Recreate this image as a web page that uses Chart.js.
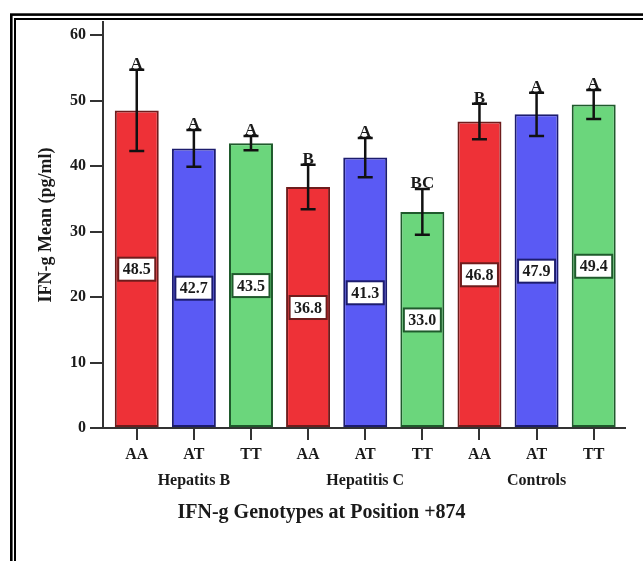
<!DOCTYPE html>
<html>
<head>
<meta charset="utf-8">
<script src="https://cdn.jsdelivr.net/npm/chart.js@4"></script>
<style>
  html, body { margin: 0; padding: 0; background: #fff; }
  #wrap { width: 643px; height: 561px; }
</style>
</head>
<body>
<div id="wrap"><canvas id="chartContainer" width="643" height="561"></canvas></div>
<script>
// data
var genotypes = ['AA', 'AT', 'TT', 'AA', 'AT', 'TT', 'AA', 'AT', 'TT'];
var groups = ['Hepatits B', 'Hepatitis C', 'Controls'];
var means = [48.5, 42.7, 43.5, 36.8, 41.3, 33.0, 46.8, 47.9, 49.4];
var errors = [6.2, 2.8, 1.1, 3.4, 3.0, 3.5, 2.7, 3.3, 2.2];
var letters = ['A', 'A', 'A', 'B', 'A', 'BC', 'B', 'A', 'A'];
var yTicks = [0, 10, 20, 30, 40, 50, 60];

var fills = ['#ee3137', '#5a5af4', '#6bd67c'];
var edges = ['#6e1c1c', '#1c1c6e', '#1f5a2c'];
var serif = '"Liberation Serif", "Times New Roman", serif';
var ink = '#1a1a1a';

// 误差线, 字母, 数值框
var barExtras = {
    id: 'barExtras',
    afterDatasetsDraw: function(chart) {
        var ctx = chart.ctx;
        var yScale = chart.scales.y;
        var bars = chart.getDatasetMeta(0).data;
        ctx.save();
        for (var i = 0; i < bars.length; i++) {
            var bx = bars[i].x;
            var top = yScale.getPixelForValue(means[i] + errors[i]);
            var bottom = yScale.getPixelForValue(means[i] - errors[i]);
            ctx.strokeStyle = '#111';
            ctx.lineWidth = 2.5;
            ctx.beginPath();
            ctx.moveTo(bx, top); ctx.lineTo(bx, bottom);
            ctx.moveTo(bx - 7.5, top); ctx.lineTo(bx + 7.5, top);
            ctx.moveTo(bx - 7.5, bottom); ctx.lineTo(bx + 7.5, bottom);
            ctx.stroke();

            ctx.font = 'bold 17px ' + serif;
            ctx.fillStyle = ink;
            ctx.textAlign = 'center';
            ctx.textBaseline = 'alphabetic';
            ctx.fillText(letters[i], bx, top - 1);

            var mid = yScale.getPixelForValue(means[i] / 2);
            var label = means[i].toFixed(1);
            ctx.font = 'bold 16px ' + serif;
            var w = ctx.measureText(label).width + 9;
            var h = 23;
            ctx.fillStyle = '#fff';
            ctx.fillRect(bx - w / 2, mid - h / 2, w, h);
            ctx.strokeStyle = edges[i % 3];
            ctx.lineWidth = 2;
            ctx.strokeRect(bx - w / 2, mid - h / 2, w, h);
            ctx.fillStyle = ink;
            ctx.textBaseline = 'middle';
            ctx.fillText(label, bx, mid + 1);
        }
        ctx.restore();
    }
};

// 双线边框
var frame = {
    id: 'frame',
    afterDraw: function(chart) {
        var ctx = chart.ctx;
        ctx.save();
        ctx.strokeStyle = '#000';
        ctx.lineWidth = 2.6;
        ctx.strokeRect(11.3, 14.6, 700, 700);
        ctx.lineWidth = 2;
        ctx.strokeRect(15, 19, 700, 700);
        ctx.restore();
    }
};

var ctx = document.getElementById('chartContainer').getContext('2d');
var chart = new Chart(ctx, {
    type: 'bar',
    data: {
        datasets: [{
            data: means.map(function(v, i) { return { x: i, y: v }; }),
            backgroundColor: means.map(function(v, i) { return fills[i % 3]; }),
            borderColor: means.map(function(v, i) { return edges[i % 3]; }),
            borderWidth: 2,
            borderSkipped: false,
            barPercentage: 0.77,
            categoryPercentage: 1
        }]
    },
    options: {
        responsive: false,
        animation: false,
        devicePixelRatio: 1,
        layout: { padding: { top: 22, right: 0, bottom: 0, left: 0 } },
        plugins: {
            legend: { display: false },
            tooltip: { enabled: false },
            title: {
                display: true,
                position: 'bottom',
                text: 'IFN-g Genotypes at Position +874',
                color: ink,
                font: { family: serif, size: 20, weight: 'bold', lineHeight: 1.2 },
                padding: { top: 0, bottom: 36 }
            }
        },
        scales: {
            x: {
                type: 'linear',
                min: -0.591,
                max: 8.548,
                offset: false,
                afterBuildTicks: function(scale) {
                    scale.ticks = genotypes.map(function(g, i) { return { value: i }; });
                },
                afterFit: function(scale) { scale.height = 73; },
                ticks: {
                    stepSize: 1,
                    autoSkip: false,
                    maxRotation: 0,
                    padding: 2,
                    color: ink,
                    font: { family: serif, size: 16, weight: 'bold', lineHeight: 1.6 },
                    callback: function(value) {
                        if (value % 3 === 1) return [genotypes[value], groups[(value - 1) / 3]];
                        return genotypes[value];
                    }
                },
                grid: { offset: false, drawOnChartArea: false, drawTicks: true, tickLength: 12, lineWidth: 2, color: '#333' },
                border: { display: true, color: '#333', width: 2 }
            },
            y: {
                min: 0,
                max: 62,
                afterBuildTicks: function(scale) {
                    scale.ticks = yTicks.map(function(v) { return { value: v }; });
                },
                afterFit: function(scale) { scale.width = 103; },
                ticks: {
                    stepSize: 10,
                    padding: 4,
                    color: ink,
                    font: { family: serif, size: 16, weight: 'bold' }
                },
                title: {
                    display: true,
                    text: 'IFN-g Mean (pg/ml)',
                    color: ink,
                    font: { family: serif, size: 18, weight: 'bold', lineHeight: 1.2 },
                    padding: { top: 36, bottom: 0 }
                },
                grid: { drawOnChartArea: false, drawTicks: true, tickLength: 13, lineWidth: 2, color: '#333' },
                border: { display: true, color: '#333', width: 2 }
            },
            spacer: {
                type: 'linear',
                position: 'right',
                display: true,
                afterFit: function(scale) { scale.width = 18; },
                ticks: { display: false },
                grid: { display: false },
                border: { display: false }
            }
        }
    },
    plugins: [barExtras, frame]
});
</script>
</body>
</html>
